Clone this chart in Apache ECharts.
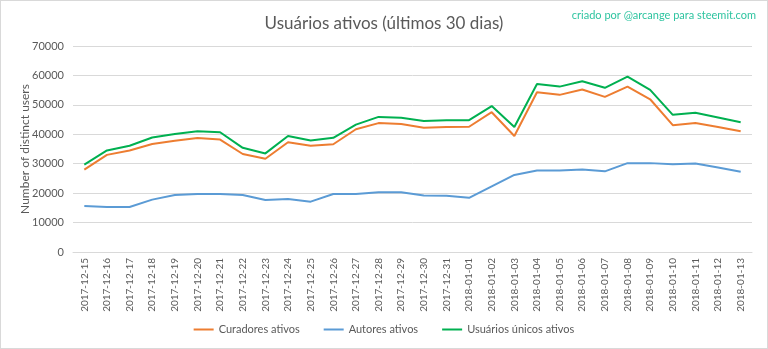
<!DOCTYPE html>
<html><head><meta charset="utf-8">
<script src="https://cdn.jsdelivr.net/npm/echarts@6/dist/echarts.min.js"></script>
<style>html,body{margin:0;padding:0;background:#fff}#c{width:768px;height:349px;box-sizing:border-box;border:1px solid #d9d9d9}</style>
</head><body><div id="c"></div>
<script>
const categories = ["2017-12-15","2017-12-16","2017-12-17","2017-12-18","2017-12-19","2017-12-20","2017-12-21","2017-12-22","2017-12-23","2017-12-24","2017-12-25","2017-12-26","2017-12-27","2017-12-28","2017-12-29","2017-12-30","2017-12-31","2018-01-01","2018-01-02","2018-01-03","2018-01-04","2018-01-05","2018-01-06","2018-01-07","2018-01-08","2018-01-09","2018-01-10","2018-01-11","2018-01-12","2018-01-13"];
const curadores = [28000,33000,34500,36700,37800,38700,38200,33300,31700,37300,36100,36600,41700,43800,43500,42200,42500,42550,47500,39400,54300,53400,55200,52700,56200,51900,43100,43800,42500,41000];
const autores = [15600,15300,15300,17800,19400,19700,19700,19400,17700,18000,17100,19700,19700,20300,20300,19200,19100,18400,22300,26200,27700,27700,28000,27400,30200,30200,29800,30100,28700,27300];
const unicos = [29700,34500,36100,38900,40100,41000,40700,35400,33500,39400,37900,38800,43300,45900,45600,44500,44800,44800,49600,42500,57100,56200,58000,55800,59600,55100,46600,47300,45700,44100];
const seriesNames = ["Curadores ativos","Autores ativos","Usuários únicos ativos"];
const FONT = "Lato, 'Noto Sans', sans-serif";
const chart = echarts.init(document.getElementById('c'), null, {renderer:'canvas'});
const mk = (name, data, color) => ({name, type:'line', data, symbol:'none', smooth:false,
  lineStyle:{width:2, color}, itemStyle:{color}});
chart.setOption({
  animation:false,
  textStyle:{fontFamily:FONT},
  title:[{text:"Usuários ativos (últimos 30 dias)", left:'center', top:9,
    textStyle:{fontFamily:FONT, fontSize:17, fontWeight:'normal', color:'#595959'}},
    {text:"criado por @arcange para steemit.com", right:6, top:4,
    textStyle:{fontFamily:FONT, fontSize:11, fontWeight:'normal', color:'#2ec4a0'}}],
  legend:{bottom:8, left:'center', icon:'rect', itemWidth:20, itemHeight:2, itemGap:24,
    textStyle:{fontFamily:FONT, fontSize:11, color:'#595959'}, data:seriesNames},
  grid:{left:72, right:15, top:45, bottom:96},
  xAxis:{type:'category', data:categories, boundaryGap:true,
    axisLine:{lineStyle:{color:'#d9d9d9'}}, axisTick:{show:false},
    axisLabel:{rotate:90, fontSize:10, color:'#595959', margin:6, interval:0, fontFamily:FONT}},
  yAxis:{type:'value', min:0, max:70000, interval:10000,
    name:"Number of distinct users", nameLocation:'middle', nameGap:42, nameRotate:90,
    nameMoveOverlap:false,
    nameTextStyle:{fontFamily:FONT, fontSize:12, color:'#595959'},
    axisLine:{show:false}, axisTick:{show:false},
    axisLabel:{fontSize:11, color:'#595959', margin:9, fontFamily:FONT, formatter:v => String(v)},
    splitLine:{lineStyle:{color:'#d9d9d9', width:1}}},
  series:[mk(seriesNames[0], curadores, '#ED7D31'), mk(seriesNames[1], autores, '#5B9BD5'), mk(seriesNames[2], unicos, '#00B050')]
});
</script></body></html>
